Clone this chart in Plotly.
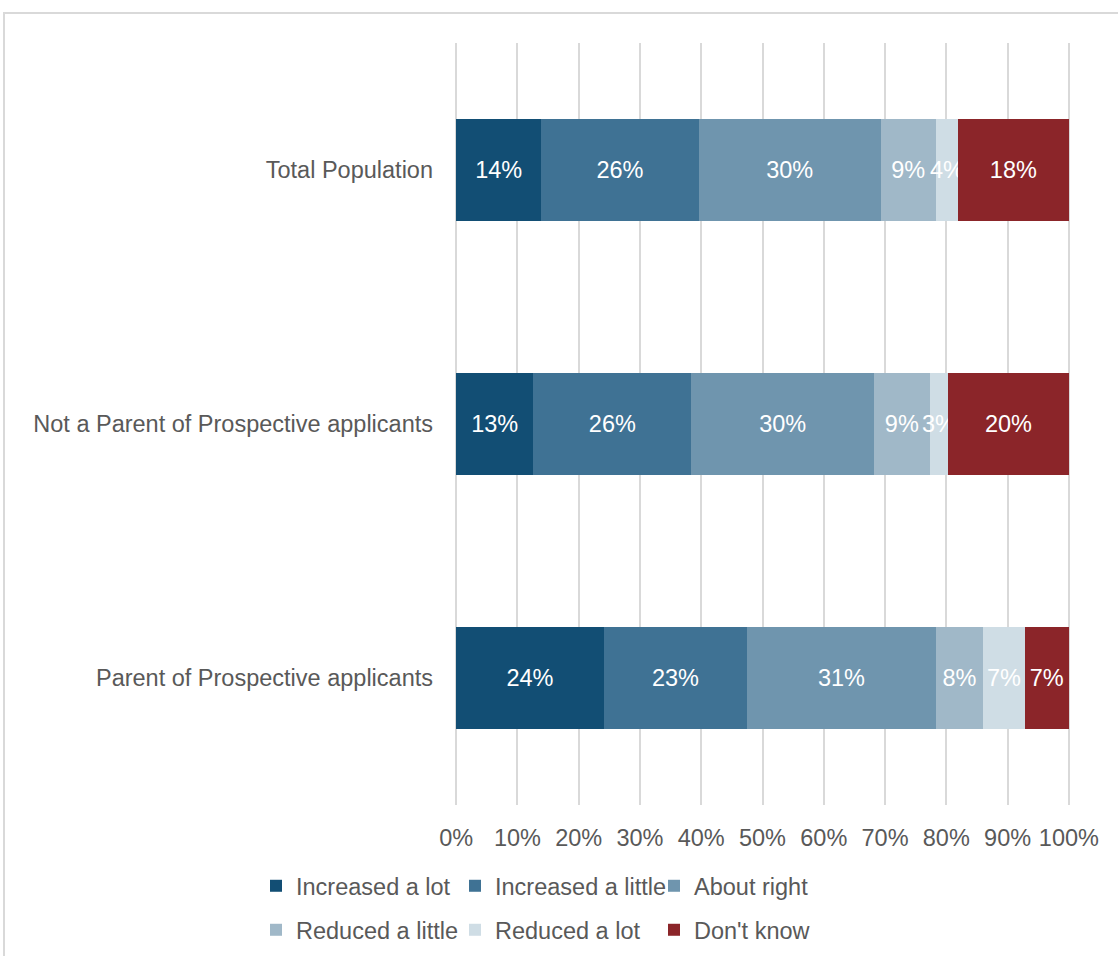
import plotly.graph_objects as go

categories = ["Parent of Prospective applicants",
              "Not a Parent of Prospective applicants",
              "Total Population"]

series_names = ["Increased a lot", "Increased a little", "About right",
                "Reduced a little", "Reduced a lot", "Don't know"]

# percentages per series, ordered as categories (Parent, Not a parent, Total)
increased_lot = [24.1, 12.6, 13.9]
increased_little = [23.4, 25.8, 25.7]
about_right = [30.8, 29.8, 29.7]
reduced_little = [7.7, 9.1, 9.0]
reduced_lot = [6.8, 3.0, 3.6]
dont_know = [7.2, 19.7, 18.1]

labels_increased_lot = ["24%", "13%", "14%"]
labels_increased_little = ["23%", "26%", "26%"]
labels_about_right = ["31%", "30%", "30%"]
labels_reduced_little = ["8%", "9%", "9%"]
labels_reduced_lot = ["7%", "3%", "4%"]
labels_dont_know = ["7%", "20%", "18%"]

tick_vals = [0, 10, 20, 30, 40, 50, 60, 70, 80, 90, 100]
tick_text = ["0%", "10%", "20%", "30%", "40%", "50%", "60%", "70%", "80%", "90%", "100%"]

series_values = [increased_lot, increased_little, about_right,
                 reduced_little, reduced_lot, dont_know]
series_labels = [labels_increased_lot, labels_increased_little, labels_about_right,
                 labels_reduced_little, labels_reduced_lot, labels_dont_know]
colors = ["#124E74", "#3F7294", "#6F95AE", "#A0B8C8", "#CFDDE5", "#8B2529"]
legend_ids = ["legend", "legend", "legend", "legend2", "legend2", "legend2"]

FONT = "Liberation Sans, Arial, sans-serif"
FS = 23.5
GREY = "#595959"

fig = go.Figure()
for name, vals, txt, col, lg in zip(series_names, series_values, series_labels,
                                     colors, legend_ids):
    fig.add_trace(go.Bar(
        y=categories, x=vals, name=name, orientation="h",
        marker=dict(color=col, line=dict(width=0)),
        text=txt, textposition="inside", insidetextanchor="middle",
        textangle=0, textfont=dict(color="white", size=FS, family=FONT),
        hoverinfo="skip", legend=lg,
    ))

legend_common = dict(orientation="h", xref="container", x=256 / 1118, xanchor="left",
                     yref="container", yanchor="middle",
                     entrywidth=154, entrywidthmode="pixels", itemwidth=30,
                     traceorder="normal", font=dict(size=FS, color=GREY, family=FONT),
                     bgcolor="rgba(0,0,0,0)", borderwidth=0)

pad = 0.35
L, R = 454, 47
plot_w = 1118 - L - R
fig.update_layout(
    barmode="stack",
    bargap=0.6,
    width=1118, height=956,
    margin=dict(l=L, r=R, t=43, b=151, autoexpand=False),
    paper_bgcolor="white", plot_bgcolor="white",
    font=dict(family=FONT, size=FS, color=GREY),
    uniformtext=dict(minsize=FS, mode="show"),
    xaxis=dict(range=[-pad, 100 + pad], tickvals=tick_vals, ticktext=tick_text,
               showgrid=True, gridcolor="#D9D9D9", gridwidth=2,
               zeroline=False, showline=False, ticks="", ticklabelstandoff=16,
               tickfont=dict(size=FS, color=GREY)),
    yaxis=dict(showgrid=False, zeroline=False, showline=False, ticks="",
               ticklabelstandoff=20, tickfont=dict(size=FS, color=GREY)),
    legend=dict(legend_common, y=1 - 886 / 956),
    legend2=dict(legend_common, y=1 - 930 / 956),
    showlegend=True,
    shapes=[dict(type="rect", xref="paper", yref="paper",
                 x0=(4 - L) / plot_w, x1=1.2, y0=-0.4, y1=(805 - 13) / 762,
                 line=dict(color="#D9D9D9", width=2), fillcolor="rgba(0,0,0,0)",
                 layer="below")],
)

fig.write_html("out.html", config={"displayModeBar": False},
               post_script="document.body.style.margin='0';")
